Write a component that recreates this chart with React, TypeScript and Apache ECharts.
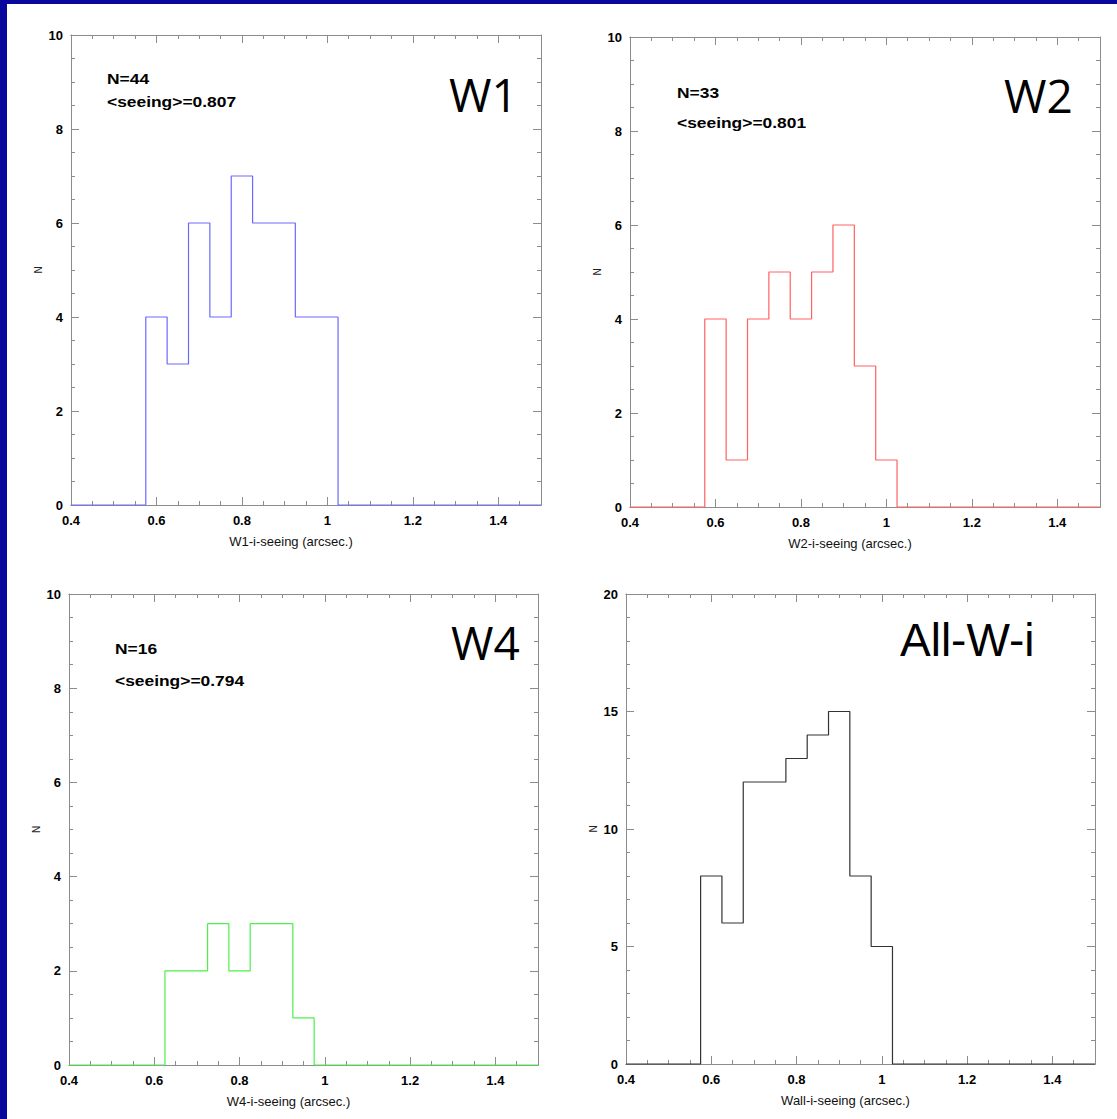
import React, { useEffect, useRef } from "react";
import * as echarts from "echarts";

// Seeing histograms (0.05" bins) for the W1, W2, W4 fields and all fields combined
const binCenters = [0.6, 0.65, 0.7, 0.75, 0.8, 0.85, 0.9, 0.95, 1.0];
const binWidth = 0.05;
const w1Counts = [4, 3, 6, 4, 7, 6, 6, 4, 4];
const w2Counts = [4, 1, 4, 5, 4, 5, 6, 3, 1];
const w4Counts = [0, 2, 2, 3, 2, 3, 3, 1, 0];
const allCounts = [8, 6, 12, 12, 13, 14, 15, 8, 5];

const panelNames = ["W1", "W2", "W4", "All-W-i"];
const axisTitles = [
  "W1-i-seeing (arcsec.)",
  "W2-i-seeing (arcsec.)",
  "W4-i-seeing (arcsec.)",
  "Wall-i-seeing (arcsec.)",
];
const sampleSizes = ["N=44", "N=33", "N=16", ""];
const meanSeeing = ["<seeing>=0.807", "<seeing>=0.801", "<seeing>=0.794", ""];
const yMaxes = [10, 10, 10, 20];
const yMajor = [2, 2, 2, 5];
const yMinorSplits = [4, 4, 4, 5];

const X_MIN = 0.4;
const X_MAX = 1.5;

const lineColors = ["#6a6aff", "#ff6262", "#4cef4c", "#333333"];
const frameColor = "#8c8c8c";
const labelFont = "'Liberation Sans', Arial, Helvetica, sans-serif";
const bigFont = "'Open Sans', 'DejaVu Sans', sans-serif";

// plot rectangles [left, top, width, height]
const grids = [
  [71, 35, 470, 470],
  [630, 37, 470, 470],
  [69, 594, 469, 471],
  [626, 594, 469, 470],
];

// text placement per panel
const bigTitlePos = [
  [449, 94],
  [1004, 95],
  [451, 642],
  [900, 640],
];
const notePos = [
  [107, 78, 101],
  [677, 92, 122],
  [115, 648, 680],
];

const round = (v: number) => Math.round(v * 1000) / 1000;

// Outline of a histogram: flat at zero, then steps at each bin edge
function stepOutline(counts: number[]) {
  const pts: number[][] = [[X_MIN, 0]];
  let prev = 0;
  binCenters.forEach((c, i) => {
    const lo = round(c - binWidth / 2);
    pts.push([lo, prev], [lo, counts[i]]);
    prev = counts[i];
  });
  const hi = round(binCenters[binCenters.length - 1] + binWidth / 2);
  pts.push([hi, prev], [hi, 0], [X_MAX, 0]);
  return pts;
}

function xAxesFor(gridIndex: number) {
  const base = {
    type: "value",
    gridIndex,
    min: X_MIN,
    max: X_MAX,
    splitLine: { show: false },
    axisLine: { show: true, onZero: false, lineStyle: { color: frameColor, width: 1 } },
  };
  const majorTick = { show: true, inside: true, length: 8, lineStyle: { color: frameColor, width: 1 } };
  const minorTick = { show: true, inside: true, length: 4, lineStyle: { color: frameColor, width: 1 } };
  return [
    {
      ...base,
      position: "bottom",
      interval: 0.2,
      axisTick: majorTick,
      axisLabel: {
        show: true,
        showMaxLabel: false,
        margin: 9,
        color: "#000",
        fontWeight: "bold",
        fontSize: 13,
        fontFamily: labelFont,
      },
      name: axisTitles[gridIndex],
      nameLocation: "middle",
      nameGap: 30,
      nameTextStyle: {
        color: "#111",
        fontSize: 13,
        fontFamily: labelFont,
        padding: [0, 30, 0, 0],
      },
    },
    { ...base, position: "bottom", interval: 0.05, axisTick: minorTick, axisLabel: { show: false } },
    { ...base, position: "top", interval: 0.2, axisTick: majorTick, axisLabel: { show: false } },
    { ...base, position: "top", interval: 0.05, axisTick: minorTick, axisLabel: { show: false } },
  ];
}

function yAxesFor(gridIndex: number) {
  const base = {
    type: "value",
    gridIndex,
    min: 0,
    max: yMaxes[gridIndex],
    interval: yMajor[gridIndex],
    splitLine: { show: false },
    minorSplitLine: { show: false },
    axisLine: { show: true, onZero: false, lineStyle: { color: frameColor, width: 1 } },
    axisTick: { show: true, inside: true, length: 8, lineStyle: { color: frameColor, width: 1 } },
    minorTick: {
      show: true,
      splitNumber: yMinorSplits[gridIndex],
      length: 4,
      lineStyle: { color: frameColor, width: 1 },
    },
  };
  return [
    {
      ...base,
      position: "left",
      axisLabel: {
        show: true,
        margin: 8,
        color: "#000",
        fontWeight: "bold",
        fontSize: 13,
        fontFamily: labelFont,
      },
      name: "N",
      nameLocation: "middle",
      nameGap: 28,
      nameRotate: 90,
      nameTextStyle: { color: "#222", fontSize: 10, fontFamily: labelFont },
    },
    { ...base, position: "right", axisLabel: { show: false } },
  ];
}

export default function App() {
  const ref = useRef<HTMLDivElement>(null);

  useEffect(() => {
    if (!ref.current) return;
    const chart = echarts.init(ref.current, undefined, { renderer: "svg" });

    const countsList = [w1Counts, w2Counts, w4Counts, allCounts];

    const graphic: any[] = [
      { type: "rect", shape: { x: 0, y: 0, width: 1117, height: 4 }, style: { fill: "#08089c" }, z: 10 },
      { type: "rect", shape: { x: 0, y: 0, width: 7, height: 1119 }, style: { fill: "#08089c" }, z: 10 },
    ];
    panelNames.forEach((name, i) => {
      graphic.push({
        type: "text",
        x: bigTitlePos[i][0],
        y: bigTitlePos[i][1],
        style: {
          text: name,
          fill: "#000",
          font: `46px ${i === 3 ? labelFont : bigFont}`,
          verticalAlign: "middle",
          align: "left",
        },
      });
    });
    // sample size and mean seeing notes, in a slightly widened bold face
    notePos.forEach((p, i) => {
      graphic.push({
        type: "text",
        x: p[0],
        y: p[1],
        scaleX: 1.16,
        style: { text: sampleSizes[i], fill: "#000", font: `bold 15px ${labelFont}`, verticalAlign: "middle" },
      });
      graphic.push({
        type: "text",
        x: p[0],
        y: p[2],
        scaleX: 1.16,
        style: { text: meanSeeing[i], fill: "#000", font: `bold 15px ${labelFont}`, verticalAlign: "middle" },
      });
    });

    chart.setOption({
      animation: false,
      backgroundColor: "#ffffff",
      grid: grids.map((g) => ({ left: g[0], top: g[1], width: g[2], height: g[3], containLabel: false })),
      xAxis: [0, 1, 2, 3].flatMap((i) => xAxesFor(i)),
      yAxis: [0, 1, 2, 3].flatMap((i) => yAxesFor(i)),
      series: countsList.map((counts, i) => ({
        type: "line",
        name: panelNames[i],
        xAxisIndex: i * 4,
        yAxisIndex: i * 2,
        data: stepOutline(counts),
        symbol: "none",
        showSymbol: false,
        clip: false,
        z: 5,
        lineStyle: { color: lineColors[i], width: 1.2 },
      })),
      graphic,
    });

    return () => chart.dispose();
  }, []);

  return (
    <div
      ref={ref}
      style={{ position: "absolute", left: 0, top: 0, width: 1117, height: 1119 }}
    />
  );
}
